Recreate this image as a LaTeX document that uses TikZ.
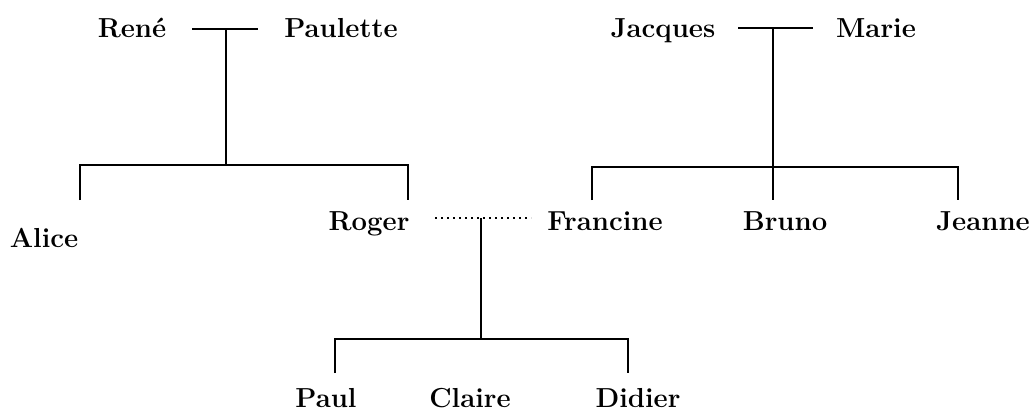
\documentclass[tikz,border=0pt]{standalone}
\usepackage{fontspec}
\begin{document}
\begin{tikzpicture}[x=1pt,y=-1pt,
  person/.style={font=\fontsize{27.5}{32}\selectfont\bfseries, inner sep=0pt, anchor=base},
  link/.style={line width=1.8pt},
  marriage/.style={line width=2pt, dash pattern=on 2pt off 4pt}]
\useasboundingbox (0,0) rectangle (1034,412);
% people
\node[person] (rene) at (132,38) {René};
\node[person] (paulette) at (341,38) {Paulette};
\node[person] (jacques) at (663,38) {Jacques};
\node[person] (marie) at (876,38) {Marie};
\node[person] (alice) at (44,247) {Alice};
\node[person] (roger) at (369,230) {Roger};
\node[person] (francine) at (605,230) {Francine};
\node[person] (bruno) at (785,230) {Bruno};
\node[person] (jeanne) at (983,230) {Jeanne};
\node[person] (paul) at (326,407) {Paul};
\node[person] (claire) at (470,407) {Claire};
\node[person] (didier) at (638,407) {Didier};
% junction points
\coordinate (rpL) at (192,29);
\coordinate (rpR) at (258,29);
\coordinate (rpM) at (226,29);
\coordinate (rpB) at (226,165);
\coordinate (aliceTop) at (80,200);
\coordinate (rogerTop) at (408,200);
\coordinate (jmL) at (738,28);
\coordinate (jmR) at (813,28);
\coordinate (jmM) at (773,28);
\coordinate (jmB) at (773,167);
\coordinate (francineTop) at (592,200);
\coordinate (brunoTop) at (773,200);
\coordinate (jeanneTop) at (958,200);
\coordinate (rfL) at (435,218);
\coordinate (rfR) at (531,218);
\coordinate (rfM) at (481,218);
\coordinate (rfB) at (481,339);
\coordinate (paulTop) at (335,373);
\coordinate (didierTop) at (628,373);
% René & Paulette
\draw[link] (rpL) -- (rpR);
\draw[link] (rpM) -- (rpB);
\draw[link] (aliceTop) |- (rpB) -| (rogerTop);
% Jacques & Marie
\draw[link] (jmL) -- (jmR);
\draw[link] (jmM) -- (brunoTop);
\draw[link] (francineTop) |- (jmB) -| (jeanneTop);
% Roger & Francine
\draw[marriage] (rfL) -- (rfR);
\draw[link] (rfM) -- (rfB);
\draw[link] (paulTop) |- (rfB) -| (didierTop);
\end{tikzpicture}
\end{document}
